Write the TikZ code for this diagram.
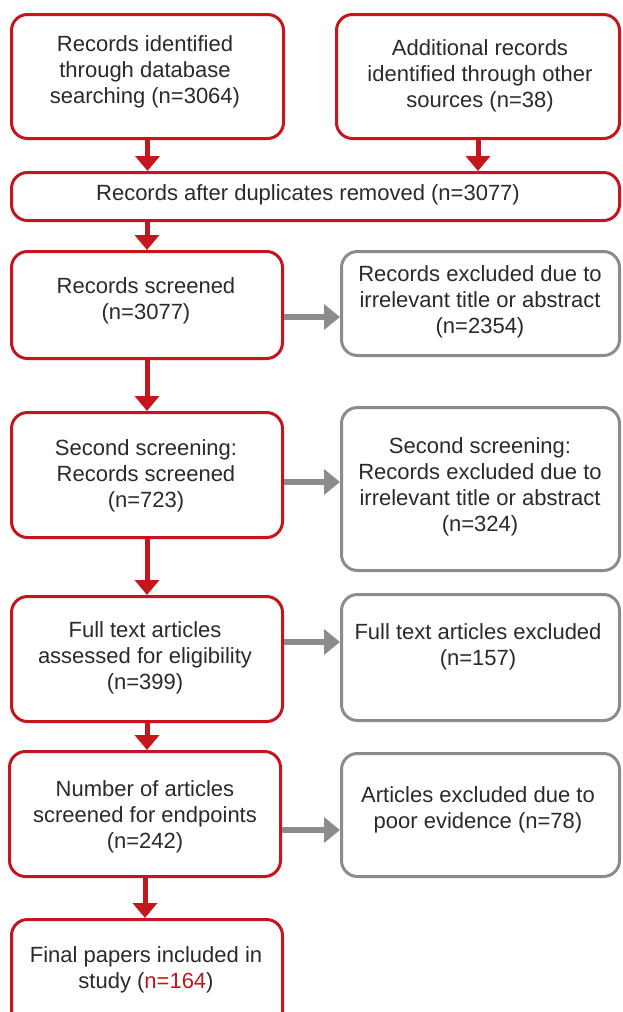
\documentclass[tikz,border=0pt]{standalone}
\usepackage{fontspec}
\setmainfont{Liberation Sans}
\usetikzlibrary{arrows.meta}
\definecolor{pred}{HTML}{C4161C}
\definecolor{pgray}{HTML}{8C8C8C}
\definecolor{ptext}{HTML}{2A2A2A}
\begin{document}
\begin{tikzpicture}[x=1pt,y=-1pt,
  redbox/.style={draw=pred, line width=3pt, rounded corners=16pt, inner sep=0pt},
  graybox/.style={draw=pgray, line width=3pt, rounded corners=16pt, inner sep=0pt},
  txt/.style={font=\fontsize{22}{26}\selectfont, text=ptext, align=center, inner sep=0pt},
  redarrow/.style={draw=pred, line width=5pt, -{Triangle[width=24pt,length=15pt]}},
  grayarrow/.style={draw=pgray, line width=6pt, -{Triangle[width=25pt,length=16pt]}},
]
\useasboundingbox (0,0) rectangle (622,1012);
\fill[white] (0,0) rectangle (622,1012);

% boxes
\node[redbox, minimum width=272pt, minimum height=124pt] (b1) at (147.5,76.5) {};
\node[redbox, minimum width=283pt, minimum height=124pt] (b2) at (478,76.5) {};
\node[redbox, minimum width=608pt, minimum height=48pt] (dup) at (315.5,196.5) {};
\node[redbox, minimum width=271pt, minimum height=107pt] (scr) at (147,305) {};
\node[graybox, minimum width=278pt, minimum height=104pt] (ex1) at (480.5,303.5) {};
\node[redbox, minimum width=271pt, minimum height=125pt] (scr2) at (147,475) {};
\node[graybox, minimum width=278pt, minimum height=163pt] (ex2) at (480.5,489) {};
\node[redbox, minimum width=271pt, minimum height=125pt] (full) at (147,659) {};
\node[graybox, minimum width=278pt, minimum height=126pt] (ex3) at (480.5,657.5) {};
\node[redbox, minimum width=271pt, minimum height=125pt] (num) at (145,814) {};
\node[graybox, minimum width=278pt, minimum height=123pt] (ex4) at (480.5,815) {};
\node[redbox, minimum width=271pt, minimum height=114pt] (fin) at (147,976.5) {};

% texts
\node[txt] (t1) at (145,72) {Records identified\\through database\\searching (n=3064)};
\node[txt] (t2) at (480,76) {Additional records\\identified through other\\sources (n=38)};
\node[txt] (tdup) at (308,195) {Records after duplicates removed (n=3077)};
\node[txt] (tscr) at (146,301) {Records screened\\(n=3077)};
\node[txt] (tex1) at (480,302) {Records excluded due to\\irrelevant title or abstract\\(n=2354)};
\node[txt] (tscr2) at (146,475.5) {Second screening:\\Records screened\\(n=723)};
\node[txt] (tex2) at (480,487) {Second screening:\\Records excluded due to\\irrelevant title or abstract\\(n=324)};
\node[txt] (tfull) at (145,658) {Full text articles\\assessed for eligibility\\(n=399)};
\node[txt] (tex3) at (478,647) {Full text articles excluded\\(n=157)};
\node[txt] (tnum) at (145,817) {Number of articles\\screened for endpoints\\(n=242)};
\node[txt] (tex4) at (478,810) {Articles excluded due to\\poor evidence (n=78)};
\node[txt] (tfin) at (146,970) {Final papers included in\\study ({\color{pred}n=164})};

% red arrows
\draw[redarrow] (b1.south) -- (b1.south |- dup.north);
\draw[redarrow] (b2.south) -- (b2.south |- dup.north);
\draw[redarrow] (dup.south -| scr.north) -- (scr.north);
\draw[redarrow] (scr.south) -- (scr2.north);
\draw[redarrow] (scr2.south) -- (full.north);
\draw[redarrow] (full.south) -- (full.south |- num.north);
\draw[redarrow] (num.south) -- (num.south |- fin.north);

% gray arrows
\draw[grayarrow] ([yshift=-12pt]scr.east) -- ([yshift=-12pt]scr.east -| ex1.west);
\draw[grayarrow] ([yshift=-7pt]scr2.east) -- ([yshift=-7pt]scr2.east -| ex2.west);
\draw[grayarrow] ([yshift=17pt]full.east) -- ([yshift=17pt]full.east -| ex3.west);
\draw[grayarrow] ([yshift=-16pt]num.east) -- ([yshift=-16pt]num.east -| ex4.west);
\end{tikzpicture}
\end{document}
